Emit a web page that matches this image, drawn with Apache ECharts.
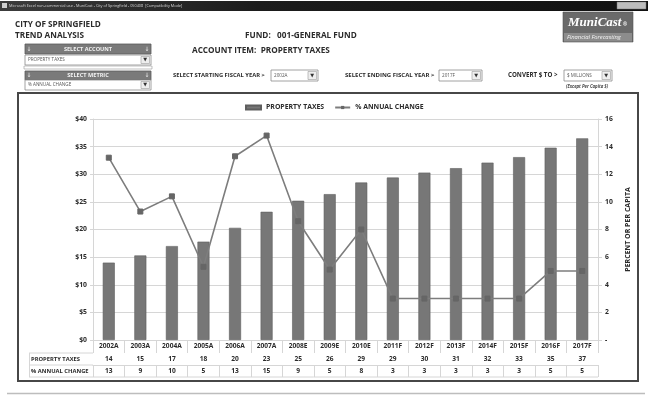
<!DOCTYPE html>
<html>
<head>
<meta charset="utf-8">
<script src="https://cdn.jsdelivr.net/npm/echarts@6/dist/echarts.min.js"></script>
<style>
  html, body { margin: 0; padding: 0; background: #ffffff; }
  #chart { width: 648px; height: 395px; }
</style>
</head>
<body>
<div id="chart"></div>
<script>
// Fiscal years, actual (A), estimated (E) and forecast (F)
const years = ['2002A','2003A','2004A','2005A','2006A','2007A','2008E','2009E','2010E',
               '2011F','2012F','2013F','2014F','2015F','2016F','2017F'];
// Property tax revenue, $ millions
const propertyTaxes = [14.0, 15.3, 17.0, 17.8, 20.3, 23.2, 25.2, 26.4, 28.5,
                       29.4, 30.3, 31.1, 32.1, 33.1, 34.8, 36.5];
// Year-over-year change, percent
const annualChange = [13.2, 9.3, 10.4, 5.3, 13.3, 14.8, 8.6, 5.1, 8.0,
                      3.0, 3.0, 3.0, 3.0, 3.0, 5.0, 5.0];
const rowHeaders = ['PROPERTY TAXES', '% ANNUAL CHANGE'];

const FONT = '"Open Sans", sans-serif';
const TXT = '#2b2b2b';
const GRIDC = '#d6d6d6';

// plot frame
const G = { left: 93, right: 50, top: 119, bottom: 55 };
const W = 648, H = 395;
const plotRight = W - G.right;
const baseY = H - G.bottom;
const ROW = [13, 12, 12];

const chart = echarts.init(document.getElementById('chart'), null, { renderer: 'canvas' });

function txt(x, y, s, o) {
  return Object.assign({ type: 'text', x: x, y: y, silent: true,
    style: Object.assign({ text: s, fill: TXT, font: 'bold 8px ' + FONT, textVerticalAlign: 'middle' }, o || {}) });
}
function rect(x, y, w, h, st) {
  return { type: 'rect', silent: true, shape: { x: x, y: y, width: w, height: h }, style: st };
}
function line(x1, y1, x2, y2, c, w) {
  return { type: 'line', silent: true, shape: { x1: x1, y1: y1, x2: x2, y2: y2 },
           style: { stroke: c, lineWidth: w || 1 } };
}
function dropdown(x, y, w, h, label) {
  return [
    rect(x, y, w, h, { fill: '#ffffff', stroke: '#8a8a8a', lineWidth: 0.8 }),
    txt(x + 3, y + h / 2, label, { font: '4.6px ' + FONT, fill: '#555' }),
    rect(x + w - 10, y + 1.5, 8.5, h - 3, { fill: '#eeeeee', stroke: '#999', lineWidth: 0.6 }),
    txt(x + w - 5.75, y + h / 2, '▼', { font: '5px "DejaVu Sans"', fill: '#333', textAlign: 'center' })
  ];
}
function panelHead(x, y, w, h, label) {
  return [
    rect(x, y, w, h, { fill: '#7a7a7a', stroke: '#5a5a5a', lineWidth: 0.8 }),
    txt(x + w / 2, y + h / 2, label, { font: 'bold 5.6px ' + FONT, fill: '#f2f2f2', textAlign: 'center' }),
    txt(x + 4, y + h / 2, '↓', { font: '6px "DejaVu Sans"', fill: '#eee', textAlign: 'center' }),
    txt(x + w - 4, y + h / 2, '↓', { font: '6px "DejaVu Sans"', fill: '#eee', textAlign: 'center' })
  ];
}

const graphics = [].concat(
  // window title bar
  [rect(0, 1, W, 10, { fill: new echarts.graphic.LinearGradient(0, 0, 1, 0,
      [{ offset: 0, color: '#3c3c3c' }, { offset: 0.4, color: '#1c1c1c' }, { offset: 1, color: '#111' }]) }),
   rect(2, 3, 5, 5, { fill: '#cfcfcf' }),
   txt(9, 6, 'Microsoft Excel non-commercial use - MuniCast - City of Springfield - 050408  [Compatibility Mode]',
       { font: '3.8px ' + FONT, fill: '#d8d8d8' }),
   rect(617, 2, 29, 7, { fill: '#bdbdbd', stroke: '#777', lineWidth: 0.5 })],
  // page headings
  [txt(15, 25, 'CITY OF SPRINGFIELD', { font: 'bold 8.2px ' + FONT }),
   txt(15, 36, 'TREND ANALYSIS', { font: 'bold 8.2px ' + FONT }),
   txt(245, 36, 'FUND:   001-GENERAL FUND', { font: 'bold 8.2px ' + FONT }),
   txt(192, 51, 'ACCOUNT ITEM:  PROPERTY TAXES', { font: 'bold 8.2px ' + FONT })],
  // selectors
  panelHead(25, 44, 126, 10, 'SELECT ACCOUNT'),
  dropdown(25, 55, 126, 10, 'PROPERTY TAXES'),
  [rect(24, 66, 128, 3, { fill: '#fff', stroke: '#999', lineWidth: 0.6 })],
  panelHead(25, 71, 126, 9, 'SELECT METRIC'),
  dropdown(25, 80, 126, 10, '% ANNUAL CHANGE'),
  [txt(173, 75.5, 'SELECT STARTING FISCAL YEAR >', { font: 'bold 5.8px ' + FONT })],
  dropdown(271, 70, 47, 11, '2002A'),
  [txt(345, 75.5, 'SELECT ENDING FISCAL YEAR >', { font: 'bold 6px ' + FONT })],
  dropdown(439, 70, 43, 11, '2017F'),
  [txt(508, 75.5, 'CONVERT $ TO >', { font: 'bold 6.2px ' + FONT })],
  dropdown(564, 70, 48, 11, '$ MILLIONS'),
  [txt(566, 86.5, '(Except Per Capita $)', { font: 'italic bold 4.3px ' + FONT, fill: '#444' })],
  // MuniCast badge
  [rect(563, 12, 70, 30, { fill: '#6a6a6a', stroke: '#555', lineWidth: 0.6 }),
   rect(564, 33, 68, 8.5, { fill: '#8c8c8c' }),
   txt(568, 23, 'MuniCast', { font: 'italic bold 13px "Liberation Serif", "DejaVu Serif", serif', fill: '#ffffff' }),
   txt(623, 25, '®', { font: 'bold 5px ' + FONT, fill: '#ffffff' }),
   txt(567, 37.5, 'Financial Forecasting', { font: 'italic 5.8px ' + FONT, fill: '#f4f4f4' })],
  // chart frame
  [rect(18, 93, 620, 288, { fill: 'none', stroke: '#474747', lineWidth: 2 })],
  // data table row headers and outer lines
  [line(29, baseY + ROW[0], G.left, baseY + ROW[0], GRIDC),
   line(29, baseY + ROW[0] + ROW[1], G.left, baseY + ROW[0] + ROW[1], GRIDC),
   line(29, baseY + ROW[0] + ROW[1] + ROW[2], plotRight, baseY + ROW[0] + ROW[1] + ROW[2], GRIDC),
   line(29.5, baseY + ROW[0], 29.5, baseY + ROW[0] + ROW[1] + ROW[2], GRIDC),
   txt(31, baseY + ROW[0] + ROW[1] / 2, rowHeaders[0], { font: 'bold 5.8px ' + FONT }),
   txt(31, baseY + ROW[0] + ROW[1] + ROW[2] / 2, rowHeaders[1], { font: 'bold 5.8px ' + FONT })],
  // sheet bottom edge
  [line(7, 393.5, 645, 393.5, '#bdbdbd', 1.5)]
);

const tableAxis = (idx, data, offset, len) => ({
  type: 'category', data: data, position: 'bottom', offset: offset, gridIndex: 0,
  axisLine: { show: true, lineStyle: { color: GRIDC } },
  axisTick: { show: true, length: len, lineStyle: { color: GRIDC } },
  axisLabel: { fontFamily: FONT, fontWeight: 'bold', fontSize: 6.6, color: TXT, margin: 3, interval: 0 },
  splitLine: { show: false }
});

const option = {
  animation: false,
  backgroundColor: '#ffffff',
  textStyle: { fontFamily: FONT },
  grid: G,
  legend: {
    left: 240, top: 99, itemGap: 10, itemWidth: 15, itemHeight: 4,
    textStyle: { fontFamily: FONT, fontWeight: 'bold', fontSize: 6.9, color: TXT },
    data: [
      { name: 'PROPERTY TAXES', icon: 'rect' },
      { name: '% ANNUAL CHANGE' }
    ]
  },
  xAxis: [
    tableAxis(0, years, 0, ROW[0]),
    tableAxis(1, propertyTaxes.map(v => String(Math.round(v))), ROW[0], ROW[1]),
    tableAxis(2, annualChange.map(v => String(Math.round(v))), ROW[0] + ROW[1], ROW[2])
  ],
  yAxis: [
    {
      type: 'value', position: 'left', min: 0, max: 40, interval: 5,
      axisLine: { show: true, lineStyle: { color: GRIDC } },
      axisTick: { show: true, length: 3, lineStyle: { color: GRIDC } },
      axisLabel: { formatter: v => '$' + v, fontFamily: FONT, fontWeight: 'bold', fontSize: 6.8, color: TXT, margin: 6 },
      splitLine: { show: true, lineStyle: { color: GRIDC, width: 1 } }
    },
    {
      type: 'value', position: 'right', min: 0, max: 16, interval: 2,
      name: 'PERCENT OR PER CAPITA', nameLocation: 'middle', nameRotate: 90, nameGap: 26,
      nameTextStyle: { fontFamily: FONT, fontWeight: 'bold', fontSize: 7, color: TXT },
      axisLine: { show: true, lineStyle: { color: GRIDC } },
      axisTick: { show: true, length: 4, lineStyle: { color: GRIDC } },
      axisLabel: { formatter: v => (v === 0 ? '-' : String(v)), fontFamily: FONT, fontWeight: 'bold', fontSize: 6.8, color: TXT, margin: 7 },
      splitLine: { show: false }
    }
  ],
  series: [
    {
      name: 'PROPERTY TAXES', type: 'bar', xAxisIndex: 0, yAxisIndex: 0,
      data: propertyTaxes, barWidth: 12,
      itemStyle: { color: '#777777', borderColor: '#5e5e5e', borderWidth: 0.6 }
    },
    {
      name: '% ANNUAL CHANGE', type: 'line', xAxisIndex: 0, yAxisIndex: 1,
      data: annualChange, symbol: 'rect', symbolSize: 5,
      lineStyle: { color: '#7d7d7d', width: 1.6 },
      itemStyle: { color: '#666666', borderColor: '#666666' }
    }
  ],
  graphic: graphics
};

chart.setOption(option);
</script>
</body>
</html>
